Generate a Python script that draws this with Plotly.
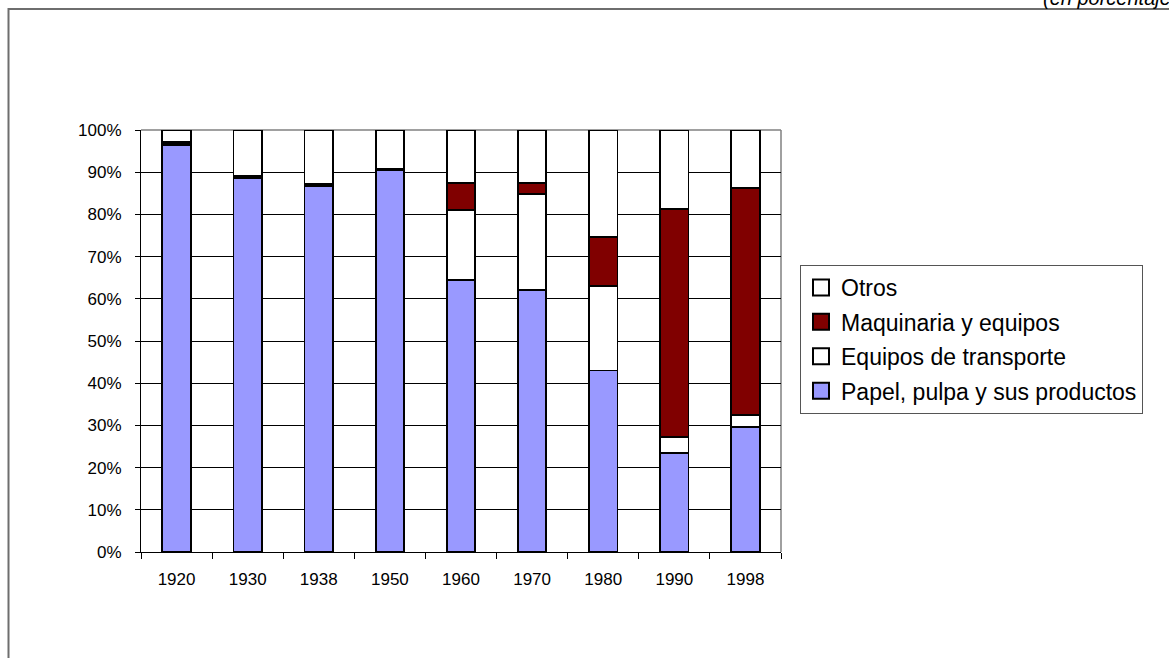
import plotly.graph_objects as go

# Share of each product group (percent), by year
years = ["1920", "1930", "1938", "1950", "1960", "1970", "1980", "1990", "1998"]
papel = [96.4, 88.7, 86.8, 90.6, 64.4, 62.0, 43.0, 23.5, 29.6]
transporte = [0.2, 0.0, 0.0, 0.0, 16.6, 22.8, 20.1, 3.8, 2.8]
maquinaria = [0.6, 0.4, 0.4, 0.3, 6.4, 2.7, 11.5, 54.0, 53.8]
otros = [2.8, 10.9, 12.8, 9.1, 12.6, 12.5, 25.4, 18.7, 13.8]

series = [
    ("Papel, pulpa y sus productos", papel, "#9999FF"),
    ("Equipos de transporte", transporte, "#FFFFFF"),
    ("Maquinaria y equipos", maquinaria, "#800000"),
    ("Otros", otros, "#FFFFFF"),
]

W, H = 1169, 658
L, R, T, B = 141, 781, 130, 552  # plot area in pixels


def px_x(p):
    return (p - L) / (R - L)


def px_y(p):
    return (B - p) / (B - T)


fig = go.Figure()
for name, vals, color in series:
    fig.add_trace(go.Bar(
        x=years, y=[v / 100 for v in vals], name=name,
        marker=dict(color=color, line=dict(color="black", width=1.8)),
        showlegend=False,
    ))
# legend entries with larger square swatches, top entry = top of the stack
for name, vals, color in reversed(series):
    fig.add_trace(go.Scatter(
        x=[None], y=[None], mode="markers", name=name,
        marker=dict(symbol="square", size=16, color=color,
                    line=dict(color="black", width=2)),
        legendgroup=name,
    ))

fig.update_layout(
    width=W, height=H,
    barmode="stack", bargap=0.6,
    margin=dict(l=L, r=W - R, t=T, b=H - B, pad=0),
    plot_bgcolor="white", paper_bgcolor="white",
    font=dict(family="Liberation Sans, Arial, sans-serif", color="black", size=17),
    legend=dict(
        x=px_x(800), y=px_y(265), xanchor="left", yanchor="top",
        bordercolor="#555555", borderwidth=1, bgcolor="white",
        font=dict(size=23), traceorder="grouped", tracegroupgap=1.5,
        itemwidth=30,
    ),
    showlegend=True,
)
fig.update_xaxes(
    showline=True, linecolor="black", linewidth=1,
    ticks="outside", tickson="boundaries", ticklen=6, tickcolor="black",
    ticklabelstandoff=12, showgrid=False,
)
fig.update_yaxes(
    range=[0, 1], tickformat=".0%", dtick=0.1, tick0=0,
    showline=True, linecolor="black", linewidth=1,
    ticks="outside", ticklen=5, tickcolor="black", ticklabelstandoff=10,
    showgrid=True, gridcolor="black", gridwidth=1, zeroline=False,
)

# plot-area border (top and right) and outer chart frame
fig.add_shape(type="line", xref="paper", yref="paper", x0=0, x1=1, y0=1, y1=1,
              line=dict(color="#808080", width=1.5), layer="between")
fig.add_shape(type="line", xref="paper", yref="paper", x0=1, x1=1, y0=0, y1=1,
              line=dict(color="#808080", width=1.5), layer="between")
fig.add_shape(type="rect", xref="paper", yref="paper",
              x0=px_x(8.5), x1=px_x(W + 50), y0=px_y(H + 50), y1=px_y(9),
              line=dict(color="#6e6e6e", width=2), fillcolor="rgba(0,0,0,0)",
              layer="below")

fig.add_annotation(
    text="<i>(en porcentaje)</i>", xref="paper", yref="paper",
    x=px_x(1041), y=px_y(11), xanchor="left", yanchor="bottom",
    showarrow=False, font=dict(size=20, color="black"),
)

fig.write_html("out.html")
